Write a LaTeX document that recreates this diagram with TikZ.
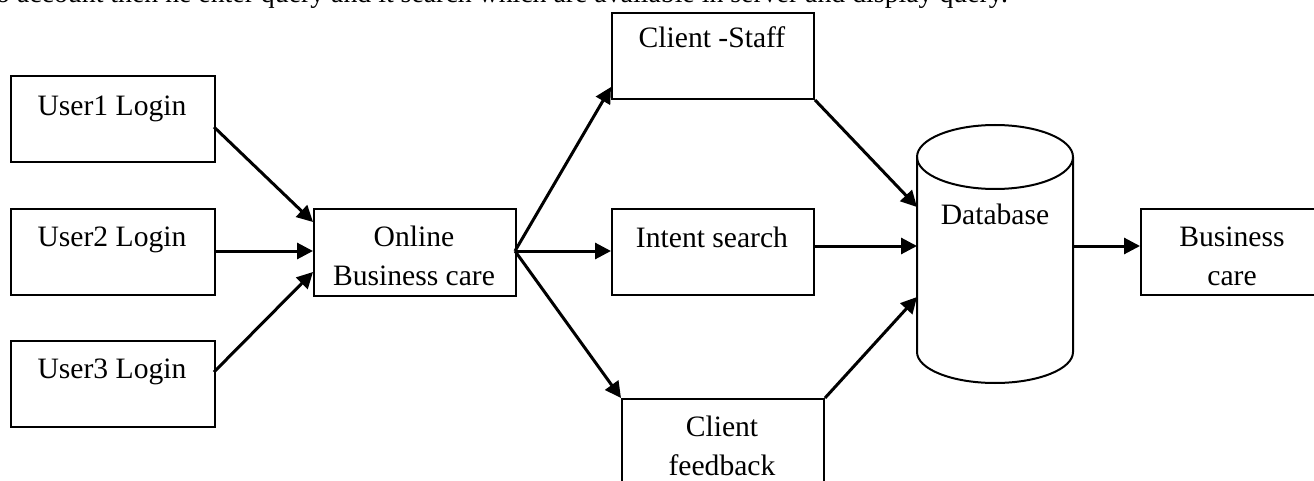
\documentclass[tikz,border=0pt]{standalone}
\usepackage{fontspec}
\setmainfont{Liberation Serif}
\usetikzlibrary{arrows.meta}
\tikzset{
  x=1pt,y=-1pt,
  box/.style={draw=black,line width=2pt,fill=white,minimum width=#1,inner sep=0pt,anchor=north west},
  lbl/.style={inner sep=0pt,align=center,font=\fontsize{29.6}{39}\selectfont},
  conn/.style={draw=black,line width=3pt,-{Triangle[length=16pt,width=16pt]}},
}
\begin{document}
\begin{tikzpicture}
\useasboundingbox (0,0) rectangle (1314,481);
\clip (0,0) rectangle (1314,481);
\node[inner sep=0pt,anchor=base west,font=\fontsize{27.8}{34}\selectfont] (intro) at (-4,3) {o account then he enter query and it search which are available in server and display query.};
% boxes
\node[box=204pt,minimum height=86pt] (u1) at (10,75) {};
\node[box=204pt,minimum height=86pt] (u2) at (10,208) {};
\node[box=204pt,minimum height=86pt] (u3) at (10,340) {};
\node[box=202pt,minimum height=87pt] (on) at (313,208) {};
\node[box=202pt,minimum height=86pt] (cs) at (611,12) {};
\node[box=202pt,minimum height=86pt] (is) at (611,208) {};
\node[box=202pt,minimum height=110pt] (fb) at (621,398) {};
\node[box=202pt,minimum height=86pt] (bc) at (1140,208) {};
% database cylinder
\node[inner sep=0pt,minimum width=156pt,minimum height=258pt] (db) at (995,254) {};
\draw[line width=2pt,fill=white]
  (917,157) arc[start angle=180,end angle=0,x radius=78,y radius=-32]
  -- (1073,352) arc[start angle=0,end angle=-180,x radius=78,y radius=-31]
  -- cycle;
\draw[line width=2pt] (917,157) arc[start angle=180,end angle=360,x radius=78,y radius=-32];
% labels
\node[lbl] (t1) at (112,109) {User1 Login};
\node[lbl] (t2) at (112,240) {User2 Login};
\node[lbl] (t3) at (112,372) {User3 Login};
\node[lbl] (t4) at (414,256) {Online\\Business care};
\node[lbl] (t5) at (712,37) {Client -Staff};
\node[lbl] (t6) at (712,237) {Intent search};
\node[lbl] (t7) at (722,446) {Client\\feedback};
\node[lbl] (t8) at (995,214) {Database};
\node[lbl] (t9) at (1232,256) {Business\\care};
% named connector ends
\coordinate (o1) at (214,127);
\coordinate (o3) at (214,372);
\coordinate (a1) at (313,222);
\coordinate (a2) at (313,251);
\coordinate (a3) at (313,272);
\coordinate (b0) at (515,251);
\coordinate (b1) at (611,87);
\coordinate (b2) at (611,251);
\coordinate (c1) at (917,207);
\coordinate (c2) at (917,246);
\coordinate (c3) at (917,297);
\coordinate (c0) at (813,246);
\coordinate (d0) at (1073,246);
\coordinate (d1) at (1140,246);
\coordinate (e0) at (214,251);
% connectors
\draw[conn] (o1) -- (a1);
\draw[conn] (e0) -- (a2);
\draw[conn] (o3) -- (a3);
\draw[conn] (b0) -- (b1);
\draw[conn] (b0) -- (b2);
\draw[conn] (b0) -- (fb.north west);
\draw[conn] (cs.south east) -- (c1);
\draw[conn] (c0) -- (c2);
\draw[conn] (fb.north east) -- (c3);
\draw[conn] (d0) -- (d1);
\end{tikzpicture}
\end{document}
